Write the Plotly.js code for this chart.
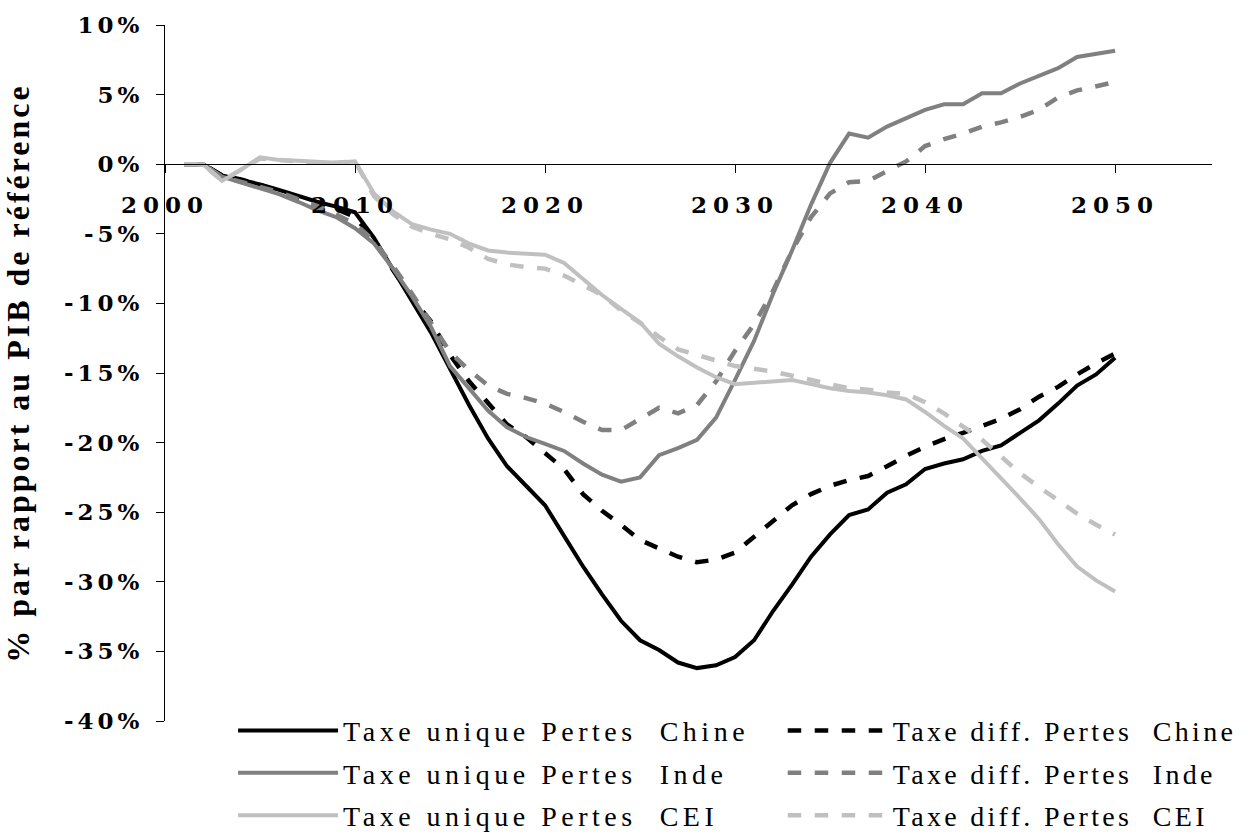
<!DOCTYPE html>
<html>
<head>
<meta charset="utf-8">
<script src="https://cdn.plot.ly/plotly-3.0.1.min.js"></script>
<style>
  html, body { margin: 0; padding: 0; background: #fff; }
  #chart { width: 1248px; height: 840px; }
  .xtick text { letter-spacing: 6px; }
  .ytick text { letter-spacing: 4px; }
  .legendtext, g[class^="legend"] text { letter-spacing: 4.5px; white-space: pre; }
  .ytitle { letter-spacing: 3px; }
</style>
</head>
<body>
<div id="chart"></div>
<script>
// Years (x categories)
const years = [2001,2002,2003,2004,2005,2006,2007,2008,2009,2010,
               2011,2012,2013,2014,2015,2016,2017,2018,2019,2020,
               2021,2022,2023,2024,2025,2026,2027,2028,2029,2030,
               2031,2032,2033,2034,2035,2036,2037,2038,2039,2040,
               2041,2042,2043,2044,2045,2046,2047,2048,2049,2050];

// % par rapport au PIB de référence
const chineUnique = [0,0,-0.8,-1.1,-1.45,-1.85,-2.3,-2.7,-3.05,-3.45,
  -5.3,-7.6,-9.8,-12.1,-14.7,-17.3,-19.7,-21.7,-23.1,-24.5,
  -26.7,-28.9,-30.9,-32.8,-34.2,-34.9,-35.8,-36.2,-36.0,-35.4,
  -34.2,-32.1,-30.2,-28.2,-26.6,-25.2,-24.8,-23.6,-23.0,-21.9,
  -21.5,-21.2,-20.6,-20.2,-19.3,-18.4,-17.2,-15.9,-15.1,-13.9];
const chineDiff = [0,0,-0.8,-1.1,-1.5,-1.9,-2.4,-2.8,-3.2,-3.8,
  -5.4,-7.6,-9.6,-11.3,-13.7,-15.6,-17.2,-18.7,-19.6,-20.8,
  -21.9,-23.7,-24.9,-25.9,-27.0,-27.6,-28.2,-28.6,-28.4,-27.9,
  -26.8,-25.6,-24.5,-23.7,-23.1,-22.7,-22.4,-21.7,-20.95,-20.3,
  -19.75,-19.3,-18.8,-18.3,-17.6,-16.7,-16.0,-15.1,-14.3,-13.6];
const indeUnique = [0,0,-0.9,-1.3,-1.7,-2.15,-2.7,-3.3,-3.8,-4.6,
  -5.7,-7.5,-9.5,-11.7,-14.5,-16.1,-17.7,-18.9,-19.6,-20.1,
  -20.6,-21.5,-22.3,-22.8,-22.5,-20.9,-20.4,-19.8,-18.2,-15.5,
  -12.7,-9.3,-6.2,-2.9,0.1,2.2,1.9,2.7,3.3,3.9,
  4.3,4.3,5.1,5.1,5.8,6.35,6.9,7.7,7.9,8.15];
const indeDiff = [0,0,-0.9,-1.25,-1.6,-2.0,-2.5,-3.0,-3.6,-4.3,
  -5.5,-7.3,-9.3,-11.4,-13.5,-14.8,-15.9,-16.5,-16.8,-17.2,
  -17.8,-18.5,-19.1,-19.1,-18.3,-17.5,-17.9,-17.3,-15.6,-13.4,
  -11.5,-9.1,-6.2,-3.8,-2.1,-1.3,-1.2,-0.5,0.2,1.3,
  1.8,2.2,2.7,3.0,3.4,3.9,4.8,5.3,5.6,5.9];
const ceiUnique = [0,0,-1.2,-0.4,0.5,0.3,0.25,0.2,0.1,0.2,
  -2.1,-3.4,-4.3,-4.7,-5.0,-5.7,-6.2,-6.35,-6.4,-6.5,
  -7.1,-8.25,-9.4,-10.4,-11.35,-12.9,-13.8,-14.6,-15.3,-15.8,
  -15.7,-15.6,-15.5,-15.8,-16.1,-16.3,-16.4,-16.6,-16.9,-17.8,
  -18.8,-19.7,-21.1,-22.6,-24.0,-25.5,-27.3,-28.9,-29.9,-30.7];
const ceiDiff = [0,0,-1.2,-0.4,0.4,0.3,0.2,0.1,0.1,0.2,
  -2.3,-3.6,-4.5,-5.0,-5.4,-6.0,-6.8,-7.2,-7.4,-7.5,
  -8.0,-8.7,-9.4,-10.5,-11.4,-12.4,-13.3,-13.7,-14.1,-14.5,
  -14.7,-14.9,-15.2,-15.5,-15.8,-16.1,-16.2,-16.4,-16.5,-17.1,
  -17.9,-18.9,-19.8,-21.0,-22.2,-23.2,-24.2,-25.1,-25.9,-26.6];

const seriesNames = [
  'Taxe unique Pertes  Chine', 'Taxe diff. Pertes  Chine',
  'Taxe unique Pertes  Inde',  'Taxe diff. Pertes  Inde',
  'Taxe unique Pertes  CEI',   'Taxe diff. Pertes  CEI'
];
const seriesValues = [chineUnique, chineDiff, indeUnique, indeDiff, ceiUnique, ceiDiff];
const seriesColors = ['#000000', '#000000', '#808080', '#808080', '#c0c0c0', '#c0c0c0'];
const seriesDash = ['solid', 'dash', 'solid', 'dash', 'solid', 'dash'];
const seriesLegend = ['legend', 'legend2', 'legend', 'legend2', 'legend', 'legend2'];

const xTickVals = [2000, 2010, 2020, 2030, 2040, 2050];
const xTickText = ['2000', '2010', '2020', '2030', '2040', '2050'];
const yTickVals = [-40, -35, -30, -25, -20, -15, -10, -5, 0, 5, 10];
const yTickText = ['-40%', '-35%', '-30%', '-25%', '-20%', '-15%', '-10%', '-5%', '0%', '5%', '10%'];

const traces = seriesValues.map((vals, i) => ({
  type: 'scatter',
  mode: 'lines',
  x: years,
  y: vals,
  name: seriesNames[i],
  legend: seriesLegend[i],
  legendgroup: 'g' + i,
  line: { color: seriesColors[i], width: seriesDash[i] === 'dash' ? 4.5 : 4, dash: seriesDash[i] },
  hoverinfo: 'skip'
}));

const tickFont = { family: 'DejaVu Serif', size: 23, color: '#000', weight: 'bold' };
const legendFont = { family: 'Liberation Serif', size: 28, color: '#000' };

const layout = {
  width: 1248,
  height: 840,
  paper_bgcolor: '#ffffff',
  plot_bgcolor: 'rgba(0,0,0,0)',
  margin: { l: 165, r: 36, t: 25, b: 119, autoexpand: false },
  showlegend: true,
  xaxis: {
    range: [2000, 2055.1],
    anchor: 'free',
    position: 0.8,
    showline: true,
    linecolor: '#000',
    linewidth: 1,
    ticks: 'outside',
    ticklen: 8,
    tickwidth: 1,
    tickcolor: '#000',
    tickvals: xTickVals,
    ticktext: xTickText,
    ticklabelstandoff: 12,
    showgrid: false,
    zeroline: false,
    tickfont: tickFont
  },
  yaxis: {
    range: [-40, 10],
    showline: true,
    linecolor: '#000',
    linewidth: 1,
    ticks: 'outside',
    ticklen: 8,
    tickwidth: 1,
    tickcolor: '#000',
    tickvals: yTickVals,
    ticktext: yTickText,
    ticklabelstandoff: 8,
    showgrid: false,
    zeroline: false,
    tickfont: tickFont,
    title: {
      text: '% par rapport au PIB de référence',
      font: { family: 'Liberation Serif', size: 32, color: '#000', weight: 'bold' },
      standoff: 24
    }
  },
  legend: {
    orientation: 'v',
    x: 0.065,
    xanchor: 'left',
    y: 0.022,
    yanchor: 'top',
    itemwidth: 100,
    tracegroupgap: 3,
    traceorder: 'grouped',
    bgcolor: 'rgba(0,0,0,0)',
    font: legendFont
  },
  legend2: {
    orientation: 'v',
    x: 0.59,
    xanchor: 'left',
    y: 0.022,
    yanchor: 'top',
    itemwidth: 100,
    tracegroupgap: 3,
    traceorder: 'grouped',
    bgcolor: 'rgba(0,0,0,0)',
    font: legendFont
  }
};

Plotly.newPlot('chart', traces, layout, { staticPlot: true, displayModeBar: false }).then(gd => {
  gd.querySelectorAll('g[class^="legend"] text, text.legendtext').forEach(t => {
    const isDiff = (t.textContent || '').indexOf('diff.') !== -1;
    t.style.letterSpacing = isDiff ? '3.3px' : '4.5px';
    t.style.whiteSpace = 'pre';
  });
  gd.querySelectorAll('g[class^="legend"], g.scrollbox, g.scrollbox *').forEach(g => {
    if (g.hasAttribute('clip-path')) g.removeAttribute('clip-path');
  });
});
</script>
</body>
</html>
